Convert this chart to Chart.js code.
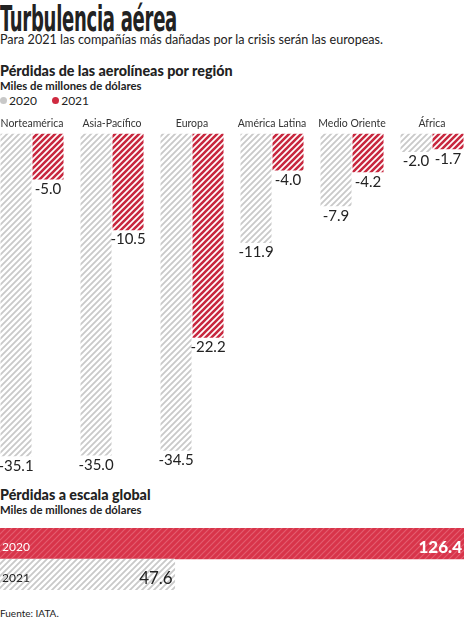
<!DOCTYPE html>
<html>
<head>
<meta charset="utf-8">
<script src="https://cdn.jsdelivr.net/npm/chart.js@4"></script>
<style>
  html, body { margin: 0; padding: 0; background: #fff; overflow: hidden; }
  body { width: 464px; height: 620px; position: relative; font-family: Lato, "Open Sans", sans-serif; color: #222; }
  .t { position: absolute; left: 0; white-space: nowrap; }
  #title { top: 1px; font-family: "Liberation Sans Narrow", "DejaVu Sans Condensed", sans-serif; font-weight: bold; font-size: 36px; line-height: 36px; letter-spacing: -0.5px; transform-origin: left top; }
  #sub { top: 32px; font-size: 12.6px; }
  .h2 { font-weight: 900; font-size: 14.3px; }
  .h3 { font-weight: 700; font-size: 11.3px; }
  #legend { top: 93px; font-size: 12px; }
  #legend span.dot { display: inline-block; width: 7px; height: 7px; border-radius: 50%; margin-right: 2px; vertical-align: 1px; }
  #box1 { position: absolute; left: -8px; top: 113px; width: 480px; height: 370px; }
  #box2 { position: absolute; left: 0; top: 528px; width: 464px; height: 62px; }
  #src { top: 607px; font-size: 10px; }
</style>
</head>
<body>
<div class="t" id="title">Turbulencia aérea</div>
<div class="t" id="sub">Para 2021 las compañías más dañadas por la crisis serán las europeas.</div>
<div class="t h2" style="top:62px">Pérdidas de las aerolíneas por región</div>
<div class="t h3" style="top:79px">Miles de millones de dólares</div>
<div class="t" id="legend"><span class="dot" style="background:#c8c8c8"></span>2020&nbsp;&nbsp;&nbsp;&nbsp;&nbsp;<span class="dot" style="background:#cf2a40"></span>2021</div>
<div id="box1"><canvas id="regions"></canvas></div>
<div class="t h2" style="top:486px">Pérdidas a escala global</div>
<div class="t h3" style="top:503px">Miles de millones de dólares</div>
<div id="box2"><canvas id="global"></canvas></div>
<div class="t" id="src">Fuente: IATA.</div>

<script>
// data
const regions = ['Norteamérica', 'Asia-Pacífico', 'Europa', 'América Latina', 'Medio Oriente', 'África'];
const loss2020 = [-35.1, -35.0, -34.5, -11.9, -7.9, -2.0];
const loss2021 = [-5.0, -10.5, -22.2, -4.0, -4.2, -1.7];
const globalYears = ['2020', '2021'];
const globalLoss = [126.4, 47.6];

// squeeze the headline to the width of the condensed original
const title = document.getElementById('title');
title.style.transform = 'scaleX(' + (177 / title.getBoundingClientRect().width) + ')';

function hatch(bg, fg, size, lw) {
    const c = document.createElement('canvas');
    c.width = size; c.height = size;
    const g = c.getContext('2d');
    g.fillStyle = bg;
    g.fillRect(0, 0, size, size);
    g.strokeStyle = fg;
    g.lineWidth = lw;
    g.beginPath();
    g.moveTo(-1, size + 1); g.lineTo(size + 1, -1);
    g.moveTo(-1, 1); g.lineTo(1, -1);
    g.moveTo(size - 1, size + 1); g.lineTo(size + 1, size - 1);
    g.stroke();
    return g.createPattern(c, 'repeat');
}

const grayHatch = hatch('#ffffff', '#c9c9c9', 6, 1.8);
const redHatch = hatch('#ffffff', '#c8283f', 6, 2.6);
const redSolid = hatch('#d8344a', '#e35d6f', 6, 1.2);

// value labels under the end of each bar
const valueLabels = {
    id: 'valueLabels',
    afterDatasetsDraw(chart) {
        const ctx = chart.ctx;
        ctx.save();
        ctx.font = '15px Lato';
        ctx.fillStyle = '#222';
        ctx.textAlign = 'center';
        ctx.textBaseline = 'top';
        chart.data.datasets.forEach((ds, i) => {
            chart.getDatasetMeta(i).data.forEach((el, j) => {
                ctx.fillText(ds.data[j].toFixed(1), el.x, el.y + 2);
            });
        });
        ctx.restore();
    }
};

new Chart(document.getElementById('regions'), {
    type: 'bar',
    data: {
        labels: regions,
        datasets: [
            { label: '2020', data: loss2020, backgroundColor: grayHatch },
            { label: '2021', data: loss2021, backgroundColor: redHatch }
        ]
    },
    options: {
        responsive: true,
        maintainAspectRatio: false,
        animation: false,
        events: [],
        layout: { padding: 0 },
        categoryPercentage: 0.8,
        barPercentage: 0.97,
        plugins: { legend: { display: false }, tooltip: { enabled: false } },
        scales: {
            x: {
                position: 'top',
                grid: { display: false, drawTicks: false },
                border: { display: false },
                ticks: { color: '#333', font: { family: 'Lato', size: 10.5 }, padding: 4, maxRotation: 0, minRotation: 0, autoSkip: false }
            },
            y: { display: false, min: -38, max: 0 }
        }
    },
    plugins: [valueLabels]
});

const globalLabels = {
    id: 'globalLabels',
    afterDatasetsDraw(chart) {
        const ctx = chart.ctx;
        ctx.save();
        chart.getDatasetMeta(0).data.forEach((el, j) => {
            const light = j === 0;
            ctx.fillStyle = light ? '#fff' : '#222';
            ctx.textBaseline = 'middle';
            ctx.textAlign = 'left';
            ctx.font = '12px Lato';
            ctx.fillText(globalYears[j], 2, el.y + 4);
            ctx.textAlign = 'right';
            ctx.font = light ? '900 17px Lato' : '17px Lato';
            ctx.fillText(globalLoss[j].toFixed(1), el.x - 2, el.y + 4);
        });
        ctx.restore();
    }
};

new Chart(document.getElementById('global'), {
    type: 'bar',
    data: {
        labels: globalYears,
        datasets: [{ data: globalLoss, backgroundColor: [redSolid, grayHatch] }]
    },
    options: {
        indexAxis: 'y',
        responsive: true,
        maintainAspectRatio: false,
        animation: false,
        events: [],
        layout: { padding: 0 },
        categoryPercentage: 1,
        barPercentage: 1,
        plugins: { legend: { display: false }, tooltip: { enabled: false } },
        scales: {
            x: { display: false, min: 0, max: 126.4 },
            y: { display: false }
        }
    },
    plugins: [globalLabels]
});
</script>
</body>
</html>
